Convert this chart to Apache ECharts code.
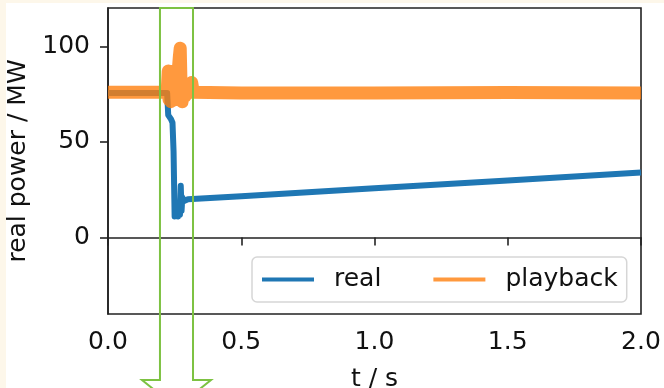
<!DOCTYPE html>
<html>
<head>
<meta charset="utf-8">
<script src="https://cdn.jsdelivr.net/npm/echarts@6/dist/echarts.min.js"></script>
<style>
html,body{margin:0;padding:0;background:#fdf7ea;}
#c{width:664px;height:388px;}
</style>
</head>
<body>
<div id="c"></div>
<script>
// ---- data ----
var timeReal = [0, 0.222, 0.226, 0.236, 0.242, 0.246, 0.25, 0.255, 0.259, 0.263, 0.267, 0.27, 0.273, 0.276, 0.279, 0.285, 0.3, 0.5, 1.0, 1.5, 2.0];
var powerReal = [75.5, 75.5, 64, 62, 60, 45, 11, 10, 16, 11, 17, 12, 27, 14, 21, 19, 20, 21.6, 25.7, 29.8, 34];
var timePlayback = [0, 0.222, 0.226, 0.229, 0.232, 0.236, 0.24, 0.244, 0.248, 0.252, 0.256, 0.26, 0.264, 0.268, 0.271, 0.274, 0.278, 0.282, 0.29, 0.3, 0.308, 0.314, 0.32, 0.5, 1.0, 1.5, 2.0];
var powerPlayback = [76, 76, 87, 72, 86, 71, 85, 74, 87, 72, 86, 74, 88, 95, 99, 80, 71, 77, 74, 77, 76, 81, 76, 75.6, 75.6, 75.8, 75.6];
var yTicks = [0, 50, 100];
var xTicks = [0, 0.5, 1.0, 1.5, 2.0];
var seriesNames = ['real', 'playback'];
var arrowT = [0.195, 0.319]; // annotation box in data (time) units

function pairs(t, v){ var o=[]; for (var i=0;i<t.length;i++) o.push([t[i], v[i]]); return o; }

var FONT = 'DejaVu Sans';
var chart = echarts.init(document.getElementById('c'), null, {renderer:'canvas'});
var option = {
  backgroundColor: 'transparent',
  animation: false,
  grid: {left:108, right:23, top:8, bottom:74, show:true, borderColor:'#222', borderWidth:1.6, backgroundColor:'#fff',
         containLabel:false, outerBoundsMode:'none'},
  legend: {
    left: 252, top: 257,
    data: [{name:seriesNames[0], icon:'rect'}, {name:seriesNames[1], icon:'rect'}],
    itemWidth: 52, itemHeight: 4, itemGap: 52,
    padding: [10, 9, 10, 10],
    borderColor: '#d6d6d6', borderWidth: 1.5, borderRadius: 5,
    backgroundColor: 'rgba(255,255,255,0.85)',
    textStyle: {fontFamily: FONT, fontSize: 25, color:'#111', padding:[0,0,0,15]}
  },
  xAxis: {
    type: 'value', min: 0, max: 2, interval: 0.5,
    name: 't / s', nameLocation: 'middle', nameGap: 53,
    nameTextStyle: {fontFamily: FONT, fontSize: 25, color:'#111'},
    axisLine: {show:true, lineStyle:{color:'#222', width:1.6}},
    axisTick: {show:true, inside:false, length:8, lineStyle:{color:'#222', width:1.6}, customValues: xTicks},
    axisLabel: {fontFamily: FONT, fontSize: 25, color:'#111', margin: 16, customValues: xTicks,
      formatter: function(v){ return v.toFixed(1); }},
    splitLine: {show:false}
  },
  yAxis: {
    type: 'value', min: -40, max: 120,
    name: 'real power / MW', nameLocation: 'middle', nameGap: 67,
    nameTextStyle: {fontFamily: FONT, fontSize: 25, color:'#111'},
    axisLine: {show:true, lineStyle:{color:'#222', width:1.6}},
    axisTick: {show:true, inside:false, length:8, lineStyle:{color:'#222', width:1.6}, customValues: yTicks},
    axisLabel: {fontFamily: FONT, fontSize: 25, color:'#111', margin: 18, customValues: yTicks},
    splitLine: {show:false}
  },
  series: [
    {name: seriesNames[0], type:'line', data: pairs(timeReal, powerReal), showSymbol:false, symbol:'none',
     color:'#1f77b4', lineStyle:{width:6, color:'#1f77b4', join:'round'}, itemStyle:{color:'#1f77b4'}, z:2},
    {name: seriesNames[1], type:'line', data: pairs(timePlayback, powerPlayback), showSymbol:false, symbol:'none',
     color:'rgba(255,127,14,0.8)', lineStyle:{width:13, color:'rgba(255,127,14,0.8)', join:'round'}, itemStyle:{color:'rgba(255,127,14,0.8)'}, z:3}
  ]
};
chart.setOption(option);

// white page area + green arrow annotation
var xl = chart.convertToPixel({gridIndex:0}, [arrowT[0], 0])[0];
var xr = chart.convertToPixel({gridIndex:0}, [arrowT[1], 0])[0];
var yTop = chart.convertToPixel({gridIndex:0}, [0, 120])[1];
var yHead = 380, flare = 18, xm = (xl + xr)/2, tipY = yHead + (xm - (xl - flare)) * 0.8;
chart.setOption({
  graphic: [
    {type:'rect', z:-10, zlevel:0, silent:true, shape:{x:6, y:3, width:664, height:400}, style:{fill:'#fff'}},
    {type:'polygon', z:100, silent:true,
     shape:{points:[[xl,yTop],[xr,yTop],[xr,yHead],[xr+flare,yHead],[xm,tipY],[xl-flare,yHead],[xl,yHead]]},
     style:{fill:'none', stroke:'#7dc242', lineWidth:2}}
  ]
});
</script>
</body>
</html>
